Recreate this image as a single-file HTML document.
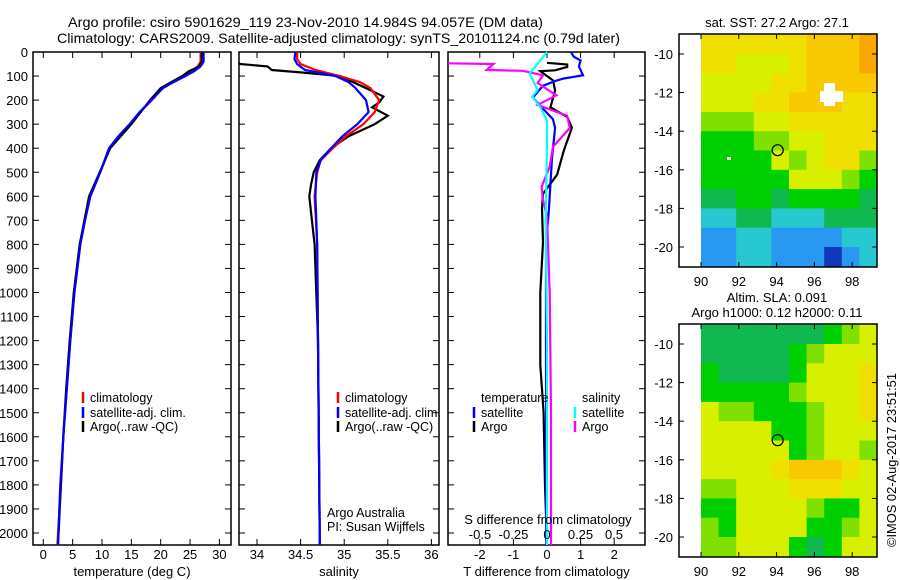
<!DOCTYPE html>
<html><head><meta charset="utf-8">
<style>
body{margin:0;background:#fff;}
svg{display:block;font-family:"Liberation Sans",sans-serif;}
text{font-size:13px;fill:#000;}
</style></head>
<body>
<svg id="chart" width="900" height="580" viewBox="0 0 900 580" xmlns="http://www.w3.org/2000/svg">
<text x="68" y="27" textLength="475" lengthAdjust="spacingAndGlyphs" style="font-size:14px">Argo profile: csiro 5901629_119 23-Nov-2010 14.984S 94.057E (DM data)</text>
<text x="57" y="43" textLength="563" lengthAdjust="spacingAndGlyphs" style="font-size:14px">Climatology: CARS2009. Satellite-adjusted climatology: synTS_20101124.nc (0.79d later)</text>
<text transform="translate(896,460) rotate(-90)" text-anchor="middle" textLength="174" lengthAdjust="spacingAndGlyphs">©IMOS 02-Aug-2017 23:51:51</text>
<g id="g"></g>
</svg>
<script>
// ---------- data ----------
const depthTicks = [0,100,200,300,400,500,600,700,800,900,1000,1100,1200,1300,1400,1500,1600,1700,1800,1900,2000];
const tempTicks = [0,5,10,15,20,25,30];
const salTicks = [34,34.5,35,35.5,36];
const tdiffTicks = [-2,-1,0,1,2];
const sdiffTicks = [-0.5,-0.25,0,0.25,0.5];
const sdiffTickLabels = ["-0.5","-0.25","0","0.25","0.5"];

const tDepth = [0,40,60,80,100,125,150,200,250,300,350,400,500,600,700,800,1000,1200,1400,1600,1800,2050];
const tClim  = [26.8,26.8,26.3,25.3,23.9,22.0,20.3,18.5,16.5,14.8,12.9,11.3,9.7,8.0,7.1,6.3,5.3,4.6,4.0,3.4,3.0,2.4];
const tSat   = [27.3,27.3,26.8,25.7,24.2,22.2,20.4,18.4,16.4,14.7,12.8,11.2,9.7,8.0,7.1,6.3,5.3,4.6,4.0,3.4,2.9,2.5];
const tArgo  = [27.0,27.0,26.6,24.8,23.7,21.8,20.0,18.2,16.6,15.0,13.2,11.4,9.6,7.8,7.0,6.2,5.2,4.5,3.9,3.4,3.0,2.5];

const sDepthC = [0,30,50,75,100,125,150,200,250,300,350,400,450,500,600,800,1200,2050];
const sClim   = [34.46,34.46,34.5,34.67,34.95,35.18,35.3,35.4,35.35,35.22,35.02,34.87,34.73,34.69,34.66,34.69,34.7,34.72];
const sSat    = [34.44,34.43,34.46,34.55,34.9,35.05,35.13,35.25,35.28,35.15,34.98,34.85,34.73,34.68,34.67,34.69,34.7,34.72];
const sDepthA = [45,50,60,75,85,100,150,185,210,230,265,300,350,400,450,500,550,600,700,800,1200,2050];
const sArgo   = [33.7,33.8,34.12,34.17,34.5,34.95,35.25,35.45,35.4,35.32,35.5,35.35,35.05,34.85,34.72,34.65,34.62,34.6,34.63,34.66,34.7,34.72];

const dTSatDepth = [0,20,35,60,97,110,118,140,189,230,280,315,441,650,800,1200,2050];
const dTSat      = [0.71,0.8,1.0,0.95,1.07,0.5,0.3,-0.12,-0.42,-0.16,0.18,0.24,0.15,0.06,-0.03,-0.03,-0.02];
const dTArgoDepth = [45,52,62,76,80,118,160,230,270,315,410,510,590,650,790,1000,1300,1500,1800,2050];
const dTArgo      = [0.0,0.6,0.6,0.24,-0.2,0.18,0.24,0.1,0.6,0.74,0.5,0.3,-0.12,-0.15,-0.12,-0.2,-0.2,-0.1,-0.06,0.0];
const dSSatDepth = [0,35,89,158,185,230,285,370,700,1200,2050];
const dSSat      = [0.0,-0.05,-0.13,-0.07,-0.11,-0.05,0.0,0.0,-0.01,0.0,0.0];
const dSArgoDepth = [47,50,75,78,97,129,180,220,265,316,394,477,560,615,685,1000,1500,2050];
const dSArgo      = [-0.8,-0.4,-0.45,-0.18,-0.03,-0.07,0.07,-0.07,0.15,0.17,0.045,0.02,-0.04,-0.03,0.0,0.02,0.03,0.03];

// map grids: rows lat -9..-21 (12 rows), cols lon 90..99.3 (10 cols), colour index
const sstGrid = [
[7,7,7,7,7,7,8,8,8,9],[7,7,6,6,6,7,8,8,8,9],[6,6,6,6,7,7,8,8,8,8],[6,6,6,7,7,8,8,8,7,7],
[5,5,5,6,6,7,7,7,7,7],[4,4,4,5,5,6,6,7,7,7],[4,4,4,4,6,5,6,7,7,5],[4,4,4,4,4,6,6,6,5,4],
[3,3,4,4,3,4,4,4,4,3],[2,2,3,3,2,2,2,3,3,3],[1,1,2,2,1,1,1,1,2,2],[1,1,2,2,1,1,1,0,1,2]];
const slaGrid = [
[3,3,3,3,3,3,3,4,5,6],[3,3,3,3,3,4,5,6,6,6],[4,3,3,3,3,4,6,6,6,7],[4,4,4,4,4,5,6,6,6,7],
[6,5,5,4,4,4,5,6,6,7],[6,6,6,6,4,4,5,6,6,6],[6,6,6,6,6,4,5,6,6,5],[6,6,6,6,7,8,8,8,7,6],
[5,5,6,6,6,7,7,7,6,6],[4,4,6,6,6,6,5,4,4,6],[5,4,6,6,6,6,4,4,5,6],[5,5,6,6,6,4,3,4,6,6]];
const palette = ['#1038b8','#2898f0','#28c8d0','#10b850','#00d000','#80e000','#d8f000','#f0e000','#f8c800','#f8a800'];
const lonTicks = [90,92,94,96,98];
const latTicks = [-10,-12,-14,-16,-18,-20];

// ---------- drawing ----------
const NS='http://www.w3.org/2000/svg';
const root=document.getElementById('g');
function mk(tag,attrs,parent){const e=document.createElementNS(NS,tag);for(const k in attrs)e.setAttribute(k,attrs[k]);(parent||root).appendChild(e);return e;}
const top0=52, per100=24.05, boxBottom=545;
const yD = d => top0 + d/100*per100;

function panel(name,x0,x1,xs,ticks,labels,xlabel){
  const g=mk('g',{});
  
  
  const box=mk('rect',{x:x0,y:top0,width:x1-x0,height:boxBottom-top0,fill:'none',stroke:'#000','stroke-width':1.5},g);
  
  
  depthTicks.forEach(d=>{const y=yD(d);mk('line',{x1:x0,x2:x0+6,y1:y,y2:y,stroke:'#000'},g);mk('line',{x1:x1-6,x2:x1,y1:y,y2:y,stroke:'#000'},g);});
  ticks.forEach((t,i)=>{const x=xs(t);mk('line',{x1:x,x2:x,y1:top0,y2:top0+6,stroke:'#000'},g);mk('line',{x1:x,x2:x,y1:boxBottom-6,y2:boxBottom,stroke:'#000'},g);
    const tl=mk('text',{x:x,y:559,'text-anchor':'middle'},g);tl.textContent=labels[i];
    
    });
  const xl=mk('text',{x:(x0+x1)/2,y:576,'text-anchor':'middle'},g);xl.textContent=xlabel;
  
  
  return g;
}
function line(g,xs,vals,depths,color,name,x0,x1){
  const pts=vals.map((v,i)=>{let x=xs(v);x=Math.max(x0,Math.min(x1,x));return x.toFixed(1)+','+yD(depths[i]).toFixed(1);}).join(' ');
  const p=mk('polyline',{points:pts,fill:'none',stroke:color,'stroke-width':2.2},g);
  
  
}
function legend(g,x,y,color,label){
  mk('line',{x1:x,x2:x,y1:y-10,y2:y+1,stroke:color,'stroke-width':2.5},g);
  const t=mk('text',{x:x+7,y:y,style:'font-size:12.5px'},g);t.textContent=label;
  
  
}
depthTicks.forEach(d=>{const t=mk('text',{x:28,y:yD(d)+5,'text-anchor':'end'});t.textContent=d;
  
  });

// panel 1 temperature
const xT=t=>43.3+t*5.87;
const p1=panel('temperature-panel',33,231,xT,tempTicks,tempTicks.map(String),'temperature (deg C)');
line(p1,xT,tClim,tDepth,'#f00','temp-climatology-line',33,231);
line(p1,xT,tArgo,tDepth,'#000','temp-argo-line',33,231);
line(p1,xT,tSat,tDepth,'#00f','temp-satellite-line',33,231);
legend(p1,83,402,'#f00','climatology');legend(p1,83,417,'#00f','satellite-adj. clim.');legend(p1,83,431,'#000','Argo(..raw -QC)');

// panel 2 salinity
const xS=s=>257+(s-34)*87.2;
const p2=panel('salinity-panel',239,439,xS,salTicks,salTicks.map(String),'salinity');
line(p2,xS,sArgo,sDepthA,'#000','sal-argo-line',239,439);
line(p2,xS,sClim,sDepthC,'#f00','sal-climatology-line',239,439);
line(p2,xS,sSat,sDepthC,'#00f','sal-satellite-line',239,439);
legend(p2,338,402,'#f00','climatology');legend(p2,338,417,'#00f','satellite-adj. clim.');legend(p2,338,431,'#000','Argo(..raw -QC)');
[['Argo Australia',517],['PI: Susan Wijffels',531]].forEach(a=>{const t=mk('text',{x:327,y:a[1],style:'font-size:12.5px'},p2);t.textContent=a[0];
  
  });

// panel 3 differences
const xDT=v=>547+v*33.6, xDS=v=>547+v*134;
const p3=panel('difference-panel',448,645,xDT,tdiffTicks,tdiffTicks.map(String),'T difference from climatology');
line(p3,xDT,dTArgo,dTArgoDepth,'#000','tdiff-argo-line',448,645);
line(p3,xDT,dTSat,dTSatDepth,'#00f','tdiff-satellite-line',448,645);
line(p3,xDS,dSArgo,dSArgoDepth,'#f0f','sdiff-argo-line',448,645);
line(p3,xDS,dSSat,dSSatDepth,'#0ff','sdiff-satellite-line',448,645);
sdiffTicks.forEach((v,i)=>{const t=mk('text',{x:xDS(v),y:539,'text-anchor':'middle'},p3);t.textContent=sdiffTickLabels[i];
  
  });
{const t=mk('text',{x:548,y:524,'text-anchor':'middle'},p3);t.textContent='S difference from climatology';
  
  }
{const t=mk('text',{x:481,y:402,style:'font-size:12.5px'},p3);t.textContent='temperature';
  
  }
{const t=mk('text',{x:582,y:402,style:'font-size:12.5px'},p3);t.textContent='salinity';
  
  }
legend(p3,474,417,'#00f','satellite');legend(p3,474,431,'#000','Argo');
legend(p3,575,417,'#0ff','satellite');legend(p3,575,431,'#f0f','Argo');

// maps
function map(name,yTop,yBot,grid,title){
  const g=mk('g',{});
  
  
  const xL=lon=>701+(lon-90)*18.9;
  const yL=lat=>(yTop+20)+(-10-lat)*19.3;
  const rows=grid.length, cols=grid[0].length, cw=(877-701)/cols, rh=(yL(-21)-yL(-9))/rows;
  grid.forEach((row,r)=>row.forEach((v,c)=>{
    const cell=mk('rect',{x:701+c*cw,y:yL(-9)+r*rh,width:cw+0.6,height:rh+0.6,fill:palette[v]},g);
    
    
  }));
  const fr=mk('rect',{x:679,y:yTop,width:198,height:yBot-yTop,fill:'none',stroke:'#000','stroke-width':1.5},g);
  
  
  lonTicks.forEach(l=>{const x=xL(l);mk('line',{x1:x,x2:x,y1:yBot-5,y2:yBot,stroke:'#000'},g);mk('line',{x1:x,x2:x,y1:yTop,y2:yTop+5,stroke:'#000'},g);
    const t=mk('text',{x:x,y:yBot+19,'text-anchor':'middle'},g);t.textContent=l;
    
    });
  latTicks.forEach(l=>{const y=yL(l);mk('line',{x1:679,x2:684,y1:y,y2:y,stroke:'#000'},g);mk('line',{x1:872,x2:877,y1:y,y2:y,stroke:'#000'},g);
    const t=mk('text',{x:673,y:y+5,'text-anchor':'end'},g);t.textContent=l;
    
    });
  const c=mk('circle',{cx:xL(94.057),cy:yL(-14.984),r:5.5,fill:'none',stroke:'#000','stroke-width':1.2},g);
  
  
  title.forEach((s,i)=>{const t=mk('text',{x:777,y:yTop-7-(title.length-1-i)*15,'text-anchor':'middle'},g);t.textContent=s;
    
    });
  return {g,xL,yL};
}
const m1=map('sst-map',34,267,sstGrid,['sat. SST: 27.2 Argo: 27.1']);
const patch=mk('path',{d:'M824 83h11v8h8v11h-8v4h-11v-4h-4v-11h4z',fill:'#fff'},m1.g);


mk('rect',{x:727,y:157,width:4,height:3,fill:'#fff'},m1.g);
const m2=map('sla-map',324,557,slaGrid,['Altim. SLA: 0.091','Argo h1000: 0.12 h2000: 0.11']);
</script>
</body></html>
